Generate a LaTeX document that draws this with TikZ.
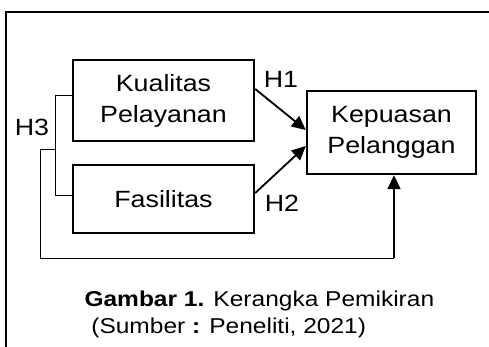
\documentclass[tikz,border=0pt]{standalone}
\usepackage{fontspec}
\setmainfont{Liberation Sans}[FakeStretch=1.14]
\usetikzlibrary{positioning,arrows.meta}

\begin{document}
\begin{tikzpicture}[
  x=1pt,
  y=-1pt,
  on grid,
  >={Triangle[length=14pt,width=13pt]},
  every node/.style={font=\fontsize{23.5}{31}\selectfont},
  var/.style={
    draw,
    rectangle,
    line width=2.4pt,
    inner sep=0pt,
    minimum width=181pt,
    align=center
  },
  link/.style={->, line width=1.8pt},
  bracket/.style={line width=0.9pt}
]
\useasboundingbox (0,0) rectangle (489,347);
% frame
\draw[line width=2pt] (6,360) |- (500,12);

\node[var, minimum height=81pt] (kualitas) at (163.5,100.5) {Kualitas\\Pelayanan};
\node[var, minimum height=68pt] (fasilitas) [below=98.5pt of kualitas] {Fasilitas};
\node[var, minimum width=169pt, minimum height=83pt] (kepuasan)
  [below right=32pt and 228pt of kualitas] {Kepuasan\\Pelanggan};

\draw[link] ([yshift=11.5pt]kualitas.east) -- ([yshift=2.5pt]kepuasan.west);
\draw[link] ([yshift=6pt]fasilitas.east) -- ([yshift=-13.5pt]kepuasan.west);
\node (h1) at (281,79) {H1};
\node (h2) at (282,203) {H2};

% H3
\draw[bracket] ([yshift=5.5pt]kualitas.west) -| (55,195) -- ([yshift=4pt]fasilitas.west);
\coordinate (brk) at (55,149);
\draw[bracket] (brk) -| (40,258) -- (394,258) coordinate (loop);
\draw[link] (loop) -- (loop |- kepuasan.south);
\node (h3) at (32,127) {H3};

\node[anchor=base west, align=left, font=\fontsize{21.5}{26.5}\selectfont] (caption) at (81,333)
  {\textbf{Gambar 1.} Kerangka Pemikiran\\\ (Sumber \textbf{:} Peneliti, 2021)};
\end{tikzpicture}
\end{document}
